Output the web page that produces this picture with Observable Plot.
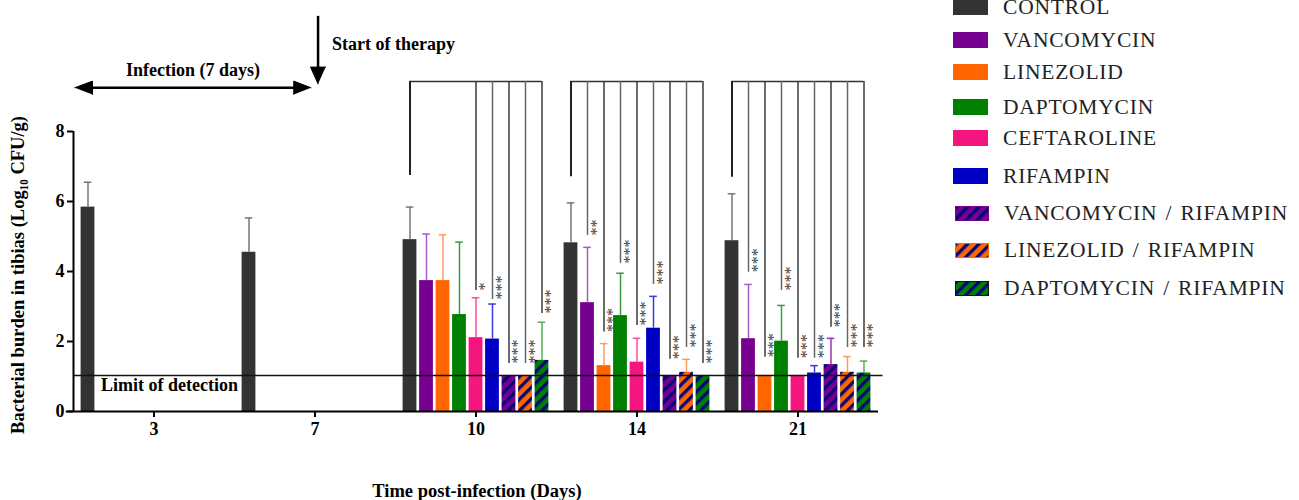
<!DOCTYPE html>
<html><head><meta charset="utf-8">
<script src="https://cdn.jsdelivr.net/npm/d3@7"></script>
<script src="https://cdn.jsdelivr.net/npm/@observablehq/plot@0.6"></script>
<style>
html,body{margin:0;padding:0;background:#fff;}
#wrap{position:relative;width:1299px;height:500px;overflow:hidden;}
#chart svg [aria-label*="tick"] path, #chart svg [aria-label*="tick"] line{stroke-width:2px;}
#legend{position:absolute;left:0;top:0;width:1299px;height:500px;pointer-events:none;
  font-family:"Liberation Serif","Times New Roman",serif;font-size:21.5px;color:#222;
  letter-spacing:0.8px;word-spacing:2px;}
.lrow{position:absolute;display:flex;align-items:center;height:22px;white-space:nowrap;}
.lrow svg{display:block;margin-right:15px;}
</style></head>
<body><div id="wrap"><div id="chart"></div><div id="legend"></div></div>
<script>
// ---------- data ----------
const days = ["3", "7", "10", "14", "21"];
const treatments = ["CONTROL", "VANCOMYCIN", "LINEZOLID", "DAPTOMYCIN", "CEFTAROLINE", "RIFAMPIN",
  "VANCOMYCIN / RIFAMPIN", "LINEZOLID / RIFAMPIN", "DAPTOMYCIN / RIFAMPIN"];
const barColors = ["#333333", "#76008f", "#ff6600", "#008000", "#f5157f", "#0000c4", "#76008f", "#ff6600", "#008000"];
const errColors = ["#777777", "#a45cc6", "#ff9a66", "#3c9a3c", "#ff4d9c", "#3b3bdc", "#9b30c0", "#ff9a55", "#55b055"];
const hatched = [false, false, false, false, false, false, true, true, true];
const stripeColor = "#06067a";

// mean log10 CFU/g per day (index = treatment)
const mean3 = [5.84];
const mean7 = [4.55];
const mean10 = [4.91, 3.74, 3.74, 2.77, 2.11, 2.07, 1.03, 1.03, 1.46];
const mean14 = [4.82, 3.11, 1.31, 2.74, 1.41, 2.38, 1.03, 1.12, 1.03];
const mean21 = [4.88, 2.08, 1.03, 2.01, 1.03, 1.10, 1.34, 1.12, 1.10];
// error (SD) per day
const sd3 = [0.71];
const sd7 = [0.98];
const sd10 = [0.93, 1.33, 1.31, 2.07, 1.14, 1.00, 0, 0, 1.09];
const sd14 = [1.14, 1.58, 0.63, 1.21, 0.68, 0.91, 0, 0.37, 0];
const sd21 = [1.34, 1.55, 0, 1.02, 0, 0.21, 0.75, 0.45, 0.34];

const limitOfDetection = 1.03;

// significance brackets vs CONTROL (lower end of each drop line, in log10 units)
const bracketTop = 9.43;
const dropEnd10 = [6.74, null, null, null, 3.46, 3.20, 1.37, 1.37, 2.80];
const stars10 = ["", "", "", "", "*", "***", "***", "***", "***"];
const dropEnd14 = [6.71, 5.03, 2.27, 4.23, 2.46, 3.63, 1.49, 1.83, 1.37];
const stars14 = ["", "**", "***", "***", "***", "***", "***", "***", "***"];
const dropEnd21 = [6.69, 3.98, 1.55, 3.46, 1.52, 1.52, 2.41, 1.83, 1.83];
const stars21 = ["", "***", "***", "***", "***", "***", "***", "***", "***"];

// ---------- tables ----------
const means = [mean3, mean7, mean10, mean14, mean21];
const sds = [sd3, sd7, sd10, sd14, sd21];
const rows = [];
means.forEach((arr, g) => arr.forEach((m, j) => rows.push({g, j, mean: m, sd: sds[g][j]})));

const drops = [];
[[2, dropEnd10, stars10], [3, dropEnd14, stars14], [4, dropEnd21, stars21]].forEach(([g, ends, st]) =>
  ends.forEach((e, j) => { if (e != null) drops.push({g, j, end: e, star: st[j]}); }));

// layout within a group (in group units; one group = one x unit)
const PITCH = 16.5 / 161, HALF = 6.9 / 161, CAP = 3.8 / 161, STAR_DX = 3.5 / 161;
const xc = d => d.g + (d.j - 4) * PITCH;
const fillOf = j => hatched[j] ? `url(#hatch${j})` : barColors[j];

const brackets = [2, 3, 4].map(g => ({g, x1: xc({g, j: 0}), x2: xc({g, j: 8})}));

// annotations
const annoMiddle = [{x: 0.242, y: 9.74, text: "Infection (7 days)"}];
const annoStart = [
  {x: 1.106, y: 10.49, text: "Start of therapy"},
  {x: -0.329, y: 0.74, text: "Limit of detection"}
];
const arrowHeads = [
  {id: "L", pts: [[-0.492, 9.25], [-0.382, 9.44], [-0.382, 9.06]]},
  {id: "R", pts: [[0.975, 9.25], [0.868, 9.44], [0.868, 9.06]]},
  {id: "D", pts: [[1.019, 9.36], [0.972, 9.84], [1.066, 9.84]]}
];
const headPts = arrowHeads.flatMap(h => h.pts.map(([x, y]) => ({id: h.id, x, y})));

const ff = '"Liberation Serif","Times New Roman",serif';

const plot = Plot.plot({
  width: 1299, height: 500,
  marginLeft: 73, marginRight: 421, marginTop: 131, marginBottom: 89,
  style: {fontFamily: ff, fontSize: "18px", fontWeight: "bold", color: "#000", background: "transparent", overflow: "visible"},
  color: {type: "identity"},
  x: {domain: [-0.5, 4.5], ticks: [0, 1, 2, 3, 4], tickFormat: i => days[i], tickSize: 6, tickPadding: 5, label: null},
  y: {domain: [0, 8], ticks: [0, 2, 4, 6, 8], tickSize: 6, tickPadding: 3, label: null},
  marks: [
    // bars
    Plot.rectY(rows, {x1: d => xc(d) - HALF, x2: d => xc(d) + HALF, y1: 0, y2: "mean", fill: d => fillOf(d.j)}),
    // error bars
    Plot.ruleX(rows.filter(d => d.sd > 0), {x: xc, y1: "mean", y2: d => d.mean + d.sd, stroke: d => errColors[d.j], strokeWidth: 1.5}),
    Plot.ruleY(rows.filter(d => d.sd > 0), {y: d => d.mean + d.sd, x1: d => xc(d) - CAP, x2: d => xc(d) + CAP, stroke: d => errColors[d.j], strokeWidth: 1.5}),
    // limit of detection
    Plot.ruleY([limitOfDetection], {x1: -0.5, x2: 4.528, stroke: "#111", strokeWidth: 1.5}),
    // axes lines
    Plot.ruleX([-0.5], {y1: 0, y2: 8, stroke: "#000", strokeWidth: 2}),
    Plot.ruleY([0], {x1: -0.545, x2: 4.5, stroke: "#000", strokeWidth: 2}),
    // significance brackets
    Plot.ruleY(brackets, {y: bracketTop, x1: "x1", x2: "x2", stroke: "#333", strokeWidth: 1.5}),
    Plot.ruleX(drops, {x: xc, y1: "end", y2: bracketTop, stroke: d => d.j === 0 ? "#222" : (d.j % 2 ? "#666" : "#3a3a3a"), strokeWidth: d => d.j === 0 ? 2 : 1.5}),
    Plot.text(drops.filter(d => d.star), {x: d => xc(d) + STAR_DX, y: "end", text: "star", rotate: 90, textAnchor: "end", lineAnchor: "middle", fontSize: 16, fontWeight: "normal", fill: "#444"}),
    // annotations
    Plot.ruleY([9.25], {x1: -0.40, x2: 0.88, stroke: "#000", strokeWidth: 2.5}),
    Plot.ruleX([1.019], {y1: 11.29, y2: 9.7, stroke: "#000", strokeWidth: 2.5}),
    Plot.line(headPts, {x: "x", y: "y", z: "id", fill: "#000", stroke: "#000", strokeWidth: 1}),
    Plot.text(annoMiddle, {x: "x", y: "y", text: "text", textAnchor: "middle", fontSize: 18}),
    Plot.text(annoStart, {x: "x", y: "y", text: "text", textAnchor: "start", fontSize: 18}),
    // axis titles
    Plot.text(["Time post-infection (Days)"], {x: 2.006, y: -2.26, fontSize: 18.5}),
    Plot.text(["Bacterial burden in tibias (Log\u2081\u2080 CFU/g)"], {x: -0.845, y: 3.9, rotate: -90, fontSize: 18.5})
  ]
});

// hatch patterns for the combination treatments
const defs = d3.select(plot).insert("defs", ":first-child");
hatched.forEach((h, j) => {
  if (!h) return;
  const p = defs.append("pattern").attr("id", `hatch${j}`).attr("patternUnits", "userSpaceOnUse")
    .attr("width", 8).attr("height", 8).attr("patternTransform", "rotate(45)");
  p.append("rect").attr("width", 8).attr("height", 8).attr("fill", barColors[j]);
  p.append("rect").attr("x", 0).attr("width", 3.3).attr("height", 8).attr("fill", stripeColor);
});
document.getElementById("chart").appendChild(plot);

// legend
const legendCenters = [7, 40, 72, 107, 138, 176, 213, 250, 288];
const legend = document.getElementById("legend");
treatments.forEach((t, j) => {
  const row = document.createElement("div");
  row.className = "lrow";
  row.style.top = (legendCenters[j] - 11) + "px";
  row.style.left = (hatched[j] ? 955 : 953) + "px";
  const w = hatched[j] ? 34 : 35, hh = hatched[j] ? 15 : 16;
  row.innerHTML = `<svg width="${w}" height="${hh}"><rect x="0.5" y="0.5" width="${w - 1}" height="${hh - 1}" fill="${fillOf(j)}" stroke="${j === 8 ? '#111' : barColors[j]}" stroke-width="1"/></svg><span>${t}</span>`;
  legend.appendChild(row);
});
</script></body></html>
